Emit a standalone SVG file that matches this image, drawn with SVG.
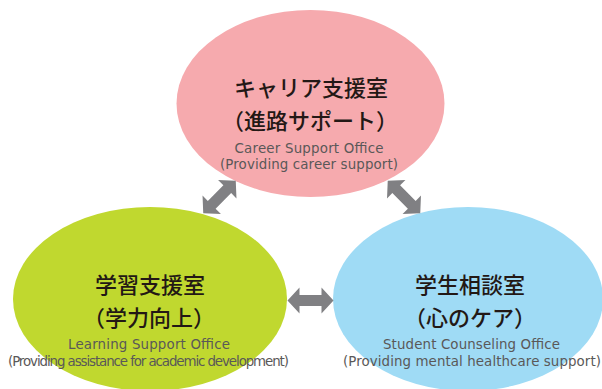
<svg xmlns="http://www.w3.org/2000/svg" xmlns:xlink="http://www.w3.org/1999/xlink" width="602" height="389" viewBox="0 0 602 389">
<style>
.jp{font-family:"Noto Sans CJK JP","Noto Sans CJK SC",sans-serif;font-weight:500;font-size:22px;fill:#231815;text-anchor:middle}
.en{font-family:"DejaVu Sans","Liberation Sans",Arial,sans-serif;font-size:13.4px;fill:#5a5858;text-anchor:middle}
.arrow{fill:#808083}
</style>
<defs>
<polygon id="dbl" class="arrow" points="-23,0 -11,-13 -11,-5.5 11,-5.5 11,-13 23,0 11,13 11,5.5 -11,5.5 -11,13"/>
</defs>
<rect width="602" height="389" fill="#ffffff"/>
<g id="career">
<ellipse cx="310.5" cy="103.5" rx="134" ry="93.5" fill="#f6aaae"/>
<text class="jp" x="311" y="96">キャリア支援室</text>
<text class="jp" x="310" y="129">（進路サポート）</text>
<text class="en" x="309" y="152.5" textLength="149">Career Support Office</text>
<text class="en" x="309" y="168.5" textLength="178">(Providing career support)</text>
</g>
<g id="learning">
<ellipse cx="150" cy="299" rx="137" ry="92" fill="#c0d82f"/>
<text class="jp" x="150" y="292.5">学習支援室</text>
<text class="jp" x="149" y="326">（学力向上）</text>
<text class="en" x="149" y="349" textLength="162">Learning Support Office</text>
<text class="en" x="148.5" y="365.5" textLength="281">(Providing assistance for academic development)</text>
</g>
<g id="counseling">
<ellipse cx="468" cy="299" rx="135" ry="92" fill="#9fdbf5"/>
<text class="jp" x="470" y="292.5">学生相談室</text>
<text class="jp" x="470" y="326">（心のケア）</text>
<text class="en" x="471.5" y="349" textLength="177">Student Counseling Office</text>
<text class="en" x="472" y="365.5" textLength="258">(Providing mental healthcare support)</text>
</g>
<g id="connectors">
<use xlink:href="#dbl" transform="translate(219.5,197) rotate(-45)"/>
<use xlink:href="#dbl" transform="translate(404,197) rotate(45)"/>
<use xlink:href="#dbl" transform="translate(310.5,300.5)"/>
</g>
</svg>
